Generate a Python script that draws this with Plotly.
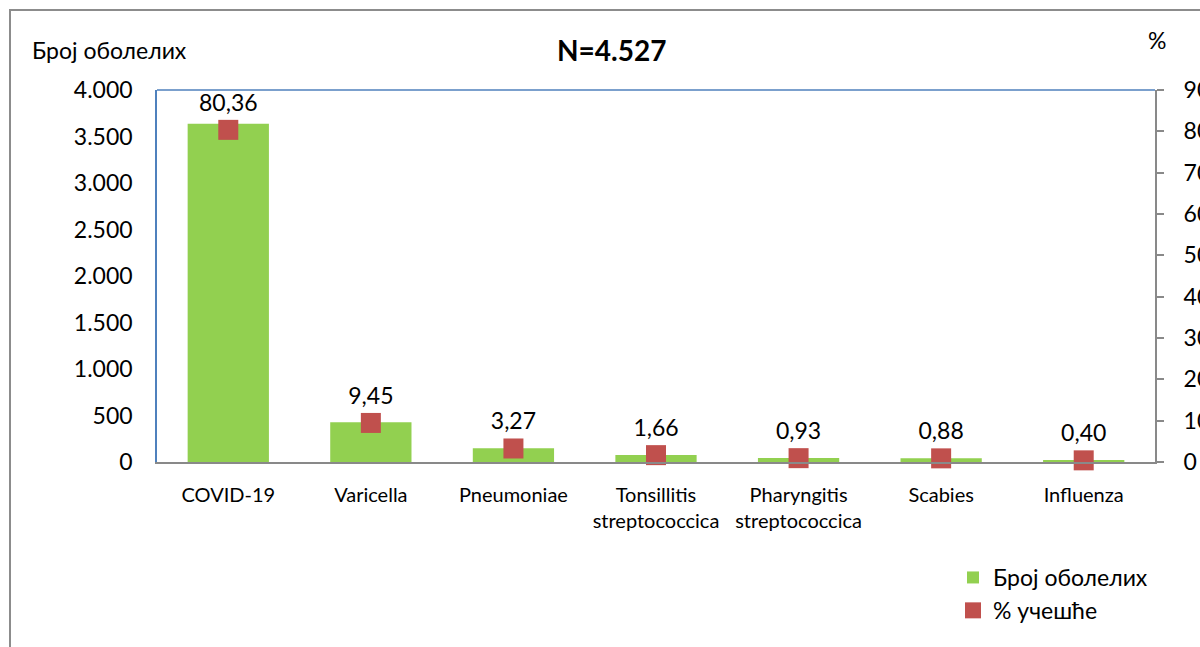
import plotly.graph_objects as go

categories = ["COVID-19", "Varicella", "Pneumoniae", "Tonsillitis<br>streptococcica",
              "Pharyngitis<br>streptococcica", "Scabies", "Influenza"]
cases = [3638, 428, 148, 75, 42, 40, 18]
percent = [80.36, 9.45, 3.27, 1.66, 0.93, 0.88, 0.40]
left_ticks = [0, 500, 1000, 1500, 2000, 2500, 3000, 3500, 4000]
right_ticks = [0, 10, 20, 30, 40, 50, 60, 70, 80, 90]

FONT = "Lato"
GREEN = "#92D050"
RED = "#C0504D"

fig = go.Figure()
fig.add_trace(go.Bar(
    x=categories, y=cases, name="Број оболелих",
    marker=dict(color=GREEN, line=dict(width=0)), width=0.57, yaxis="y",
))
fig.add_trace(go.Scatter(
    x=categories, y=percent, name="% учешће", yaxis="y2",
    mode="markers+text", marker=dict(symbol="square", size=20, color=RED),
    text=[f"{v:.2f}".replace(".", ",") for v in percent],
    textposition="top center", textfont=dict(size=23, color="#000", family=FONT),
    cliponaxis=False,
))

L, R, T, B = 157, 45, 90, 185
W, H = 1200, 647
pw = W - L - R
ph = H - T - B

def px_x(x):
    return (x - L) / pw

def px_y(y):
    return (H - B - y) / ph

fig.update_layout(
    width=W, height=H,
    margin=dict(l=L, r=R, t=T, b=B, pad=0, autoexpand=False),
    paper_bgcolor="white", plot_bgcolor="white",
    separators=",.",
    font=dict(family=FONT, size=22, color="#000"),
    bargap=0.43,
    showlegend=True,
    legend=dict(x=px_x(953), y=px_y(556), xanchor="left", yanchor="top",
                font=dict(size=23, family=FONT), bgcolor="rgba(0,0,0,0)",
                itemwidth=30, tracegroupgap=0),
    xaxis=dict(type="category", showgrid=False, showline=True, linecolor="#898989",
               linewidth=2, ticks="", tickfont=dict(size=20, family=FONT),
               ticklabelstandoff=14, mirror=False, zeroline=False),
    yaxis=dict(range=[0, 4000], tickvals=left_ticks, tickformat=",d",
               showgrid=False, showline=True, linecolor="#4F81BD", linewidth=1.5,
               ticks="", ticklen=0, tickfont=dict(size=23, family=FONT),
               ticklabelstandoff=18, zeroline=False),
    yaxis2=dict(range=[0, 90], tickvals=right_ticks, overlaying="y", side="right",
                showgrid=False, showline=True, linecolor="#898989", linewidth=2,
                ticks="outside", ticklen=7, tickcolor="#898989", tickwidth=2,
                tickfont=dict(size=23, family=FONT), ticklabelstandoff=15,
                zeroline=False),
)

shapes = [
    dict(type="line", xref="paper", yref="paper", x0=0, x1=1, y0=1, y1=1,
         line=dict(color="#4F81BD", width=1.5)),
    dict(type="rect", xref="paper", yref="paper", x0=px_x(10), x1=px_x(1260),
         y0=px_y(700), y1=px_y(10), line=dict(color="#8C8C8C", width=2),
         fillcolor="rgba(0,0,0,0)", layer="below"),
]
fig.update_layout(shapes=shapes)

fig.add_annotation(text="Број оболелих", xref="paper", yref="paper",
                   x=px_x(30), y=px_y(50), xanchor="left", yanchor="middle",
                   showarrow=False, font=dict(size=23, family=FONT))
fig.add_annotation(text="<b>N=4.527</b>", xref="paper", yref="paper",
                   x=px_x(611), y=px_y(50), xanchor="center", yanchor="middle",
                   showarrow=False, font=dict(size=28, family=FONT))
fig.add_annotation(text="%", xref="paper", yref="paper",
                   x=px_x(1157), y=px_y(40), xanchor="center", yanchor="middle",
                   showarrow=False, font=dict(size=23, family=FONT))

fig.write_html("out.html", config={"displayModeBar": False},
               post_script="document.body.style.margin='0';")
